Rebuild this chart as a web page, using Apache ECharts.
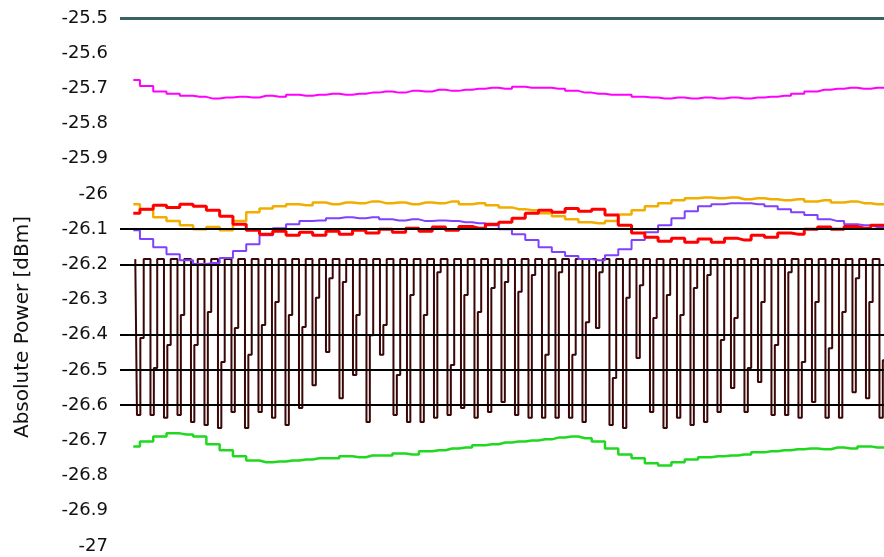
<!DOCTYPE html>
<html>
<head>
<meta charset="utf-8">
<title>Absolute Power</title>
<script src="https://cdn.jsdelivr.net/npm/echarts@6/dist/echarts.min.js"></script>
<style>
    html, body { margin: 0; padding: 0; background: #fff; }
    #main { width: 884px; height: 557px; }
</style>
</head>
<body>
<div id="main"></div>
<script>
// levels drawn as flat lines (dBm)
var topLevel = -25.5;
var refLevels = [-26.1, -26.2, -26.4, -26.5, -26.6];

// slow traces, one sample per step
var magenta = [-25.676, -25.693, -25.709, -25.715, -25.721, -25.724, -25.729, -25.726, -25.724, -25.726,
    -25.721, -25.724, -25.718, -25.721, -25.718, -25.715, -25.718, -25.715, -25.712, -25.709,
    -25.712, -25.707, -25.709, -25.704, -25.707, -25.704, -25.701, -25.698, -25.701, -25.695,
    -25.698, -25.698, -25.701, -25.707, -25.712, -25.715, -25.718, -25.718, -25.724, -25.726,
    -25.729, -25.726, -25.729, -25.726, -25.729, -25.726, -25.729, -25.726, -25.724, -25.721,
    -25.715, -25.709, -25.704, -25.701, -25.698, -25.701, -25.698, -25.698];
var orange = [-26.029, -26.043, -26.066, -26.077, -26.089, -26.100, -26.094, -26.103, -26.077, -26.052,
    -26.041, -26.035, -26.029, -26.032, -26.024, -26.029, -26.024, -26.026, -26.021, -26.026,
    -26.024, -26.029, -26.024, -26.026, -26.021, -26.029, -26.026, -26.032, -26.038, -26.043,
    -26.046, -26.055, -26.063, -26.072, -26.080, -26.083, -26.077, -26.058, -26.046, -26.035,
    -26.026, -26.018, -26.012, -26.010, -26.012, -26.010, -26.015, -26.012, -26.015, -26.018,
    -26.015, -26.021, -26.018, -26.024, -26.021, -26.026, -26.029, -26.029];
var red = [-26.055, -26.043, -26.032, -26.038, -26.029, -26.035, -26.046, -26.063, -26.086, -26.103,
    -26.114, -26.106, -26.117, -26.109, -26.117, -26.106, -26.114, -26.103, -26.111, -26.100,
    -26.109, -26.097, -26.106, -26.094, -26.103, -26.092, -26.097, -26.086, -26.080, -26.069,
    -26.055, -26.046, -26.052, -26.041, -26.049, -26.043, -26.060, -26.089, -26.111, -26.123,
    -26.134, -26.126, -26.137, -26.128, -26.137, -26.126, -26.131, -26.117, -26.123, -26.111,
    -26.114, -26.100, -26.094, -26.100, -26.092, -26.097, -26.089, -26.094];
var purple = [-26.103, -26.128, -26.151, -26.171, -26.188, -26.199, -26.196, -26.182, -26.162, -26.143,
    -26.117, -26.097, -26.086, -26.077, -26.075, -26.069, -26.066, -26.069, -26.066, -26.072,
    -26.075, -26.072, -26.077, -26.075, -26.077, -26.080, -26.083, -26.089, -26.100, -26.114,
    -26.131, -26.151, -26.165, -26.176, -26.185, -26.188, -26.174, -26.157, -26.131, -26.109,
    -26.089, -26.069, -26.049, -26.035, -26.029, -26.026, -26.026, -26.029, -26.035, -26.043,
    -26.052, -26.060, -26.072, -26.077, -26.086, -26.089, -26.094, -26.100];
var green = [-26.717, -26.703, -26.689, -26.680, -26.683, -26.689, -26.711, -26.728, -26.745, -26.757,
    -26.762, -26.760, -26.757, -26.754, -26.751, -26.751, -26.745, -26.748, -26.743, -26.743,
    -26.737, -26.740, -26.731, -26.728, -26.723, -26.720, -26.714, -26.711, -26.706, -26.703,
    -26.700, -26.697, -26.692, -26.689, -26.694, -26.703, -26.723, -26.740, -26.751, -26.765,
    -26.771, -26.762, -26.754, -26.748, -26.745, -26.743, -26.740, -26.734, -26.731, -26.728,
    -26.725, -26.723, -26.725, -26.720, -26.723, -26.717, -26.720, -26.717];

// fast pulsed trace: idle level, then a deep and a shallow dip in every period
var combTop = -26.185;
var combDeep = [-26.628, -26.628, -26.636, -26.628, -26.648, -26.656, -26.665, -26.619, -26.665, -26.619,
    -26.636, -26.656, -26.608, -26.543, -26.449, -26.580, -26.514, -26.648, -26.457, -26.628,
    -26.648, -26.648, -26.636, -26.628, -26.608, -26.636, -26.619, -26.591, -26.628, -26.636,
    -26.636, -26.636, -26.636, -26.648, -26.381, -26.656, -26.665, -26.466, -26.619, -26.665,
    -26.636, -26.656, -26.648, -26.619, -26.551, -26.619, -26.534, -26.628, -26.628, -26.636,
    -26.591, -26.636, -26.636, -26.563, -26.580, -26.636];
var combShallow = [-26.409, -26.494, -26.429, -26.344, -26.429, -26.335, -26.477, -26.381, -26.457, -26.372,
    -26.307, -26.344, -26.378, -26.295, -26.239, -26.250, -26.344, -26.401, -26.372, -26.514,
    -26.287, -26.344, -26.222, -26.486, -26.287, -26.335, -26.267, -26.250, -26.278, -26.230,
    -26.457, -26.222, -26.457, -26.364, -26.222, -26.523, -26.295, -26.259, -26.352, -26.287,
    -26.344, -26.267, -26.230, -26.415, -26.352, -26.494, -26.307, -26.429, -26.222, -26.477,
    -26.307, -26.438, -26.335, -26.239, -26.307, -26.472];
var combPeriod = 1.016;
var combStart = 0.15;

var yMin = -27, yMax = -25.5, yStep = 0.1;

function toPairs(arr) {
    return arr.map(function (v, k) { return [k, v]; });
}

var comb = [];
for (var p = 0; p < combDeep.length; p++) {
    var vals = [combTop, combDeep[p], combShallow[p], combTop];
    for (var j = 0; j < 4; j++) {
        comb.push([combStart + p * combPeriod + j * combPeriod / 4, vals[j]]);
    }
}

var refLines = [{ yAxis: topLevel, lineStyle: { color: '#3b6262', width: 3 } }];
refLevels.forEach(function (v) {
    refLines.push({ yAxis: v });
});

function trace(name, data, color, width) {
    return {
        name: name,
        type: 'line',
        step: 'middle',
        data: toPairs(data),
        showSymbol: false,
        lineStyle: { color: color, width: width },
        itemStyle: { color: color },
        z: 3
    };
}

var myChart = echarts.init(document.getElementById('main'), null, { renderer: 'canvas' });
var option = {
    animation: false,
    backgroundColor: '#fff',
    grid: { left: 120, right: 0, top: 18, bottom: 11 },
    xAxis: {
        type: 'value',
        min: -1,
        max: 56.5,
        show: false
    },
    yAxis: {
        type: 'value',
        min: yMin,
        max: yMax,
        interval: yStep,
        name: 'Absolute Power [dBm]',
        nameLocation: 'middle',
        nameGap: 87,
        nameTextStyle: {
            fontFamily: 'DejaVu Sans',
            fontSize: 20,
            color: '#111',
            padding: [0, 90, 0, 0]
        },
        axisLine: { show: false },
        axisTick: { show: false },
        splitLine: { show: false },
        axisLabel: {
            margin: 12,
            fontFamily: 'DejaVu Sans',
            fontSize: 18,
            color: '#111',
            formatter: function (v) { return String(parseFloat(v.toFixed(1))); }
        }
    },
    series: [
        {
            name: 'pulsed',
            type: 'line',
            step: 'middle',
            data: comb,
            showSymbol: false,
            lineStyle: { color: '#3a0606', width: 2 },
            markLine: {
                silent: true,
                symbol: 'none',
                label: { show: false },
                lineStyle: { color: '#000', width: 2, type: 'solid' },
                data: refLines
            },
            z: 2
        },
        trace('green', green, '#1fd81f', 2.5),
        trace('purple', purple, '#8040ff', 2),
        trace('orange', orange, '#f2ae00', 2.5),
        trace('red', red, '#ff0000', 3),
        trace('magenta', magenta, '#ff00ff', 2)
    ]
};
myChart.setOption(option);
</script>
</body>
</html>
